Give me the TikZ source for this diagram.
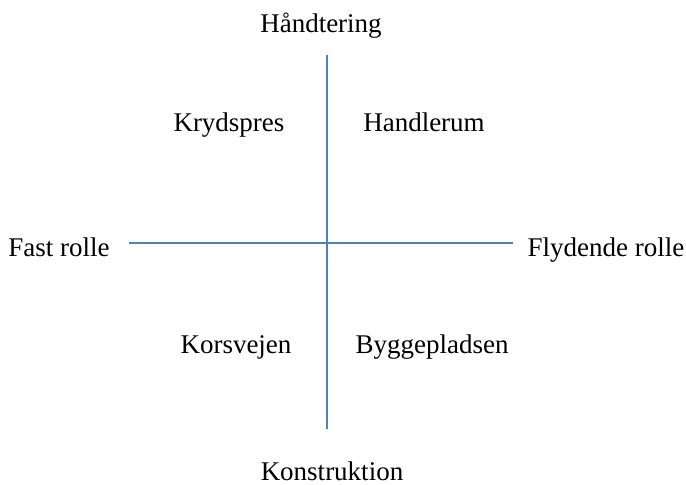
\documentclass[tikz,border=0pt]{standalone}
\usepackage{fontspec}
\setmainfont{Liberation Serif}
\usepackage{xcolor}
\usepackage{tikz}
\definecolor{axisblue}{RGB}{79,129,189}

\begin{document}
\begin{tikzpicture}[x=0.5pt, y=-0.5pt]
    \tikzstyle{axislabel} = [anchor=base, inner sep=0pt, font=\fontsize{13.5pt}{16pt}\selectfont]
    \tikzstyle{quadrant} = [anchor=base, inner sep=0pt, font=\fontsize{13.5pt}{16pt}\selectfont]
    \tikzstyle{axis} = [draw=axisblue, line width=0.75pt]

    \useasboundingbox (0,0) rectangle (686,485);

    % axis ends
    \coordinate (top) at (327,55);
    \coordinate (bottom) at (327,429);
    \coordinate (left) at (129,243);
    \coordinate (right) at (513,243);

    \node [axislabel] (handling) at (321,33) {Håndtering};
    \node [axislabel] (construction) at (332,481) {Konstruktion};
    \node [axislabel] (fixed) at (59,257) {Fast rolle};
    \node [axislabel] (fluid) at (606,257) {Flydende rolle};

    \node [quadrant] (pressure) at (229,132) {Krydspres};
    \node [quadrant] (room) at (424,132) {Handlerum};
    \node [quadrant] (crossroads) at (236,354) {Korsvejen};
    \node [quadrant] (site) at (432,354) {Byggepladsen};

    \draw [axis] (top) -- (bottom);
    \draw [axis] (left) -- (right);
\end{tikzpicture}
\end{document}
